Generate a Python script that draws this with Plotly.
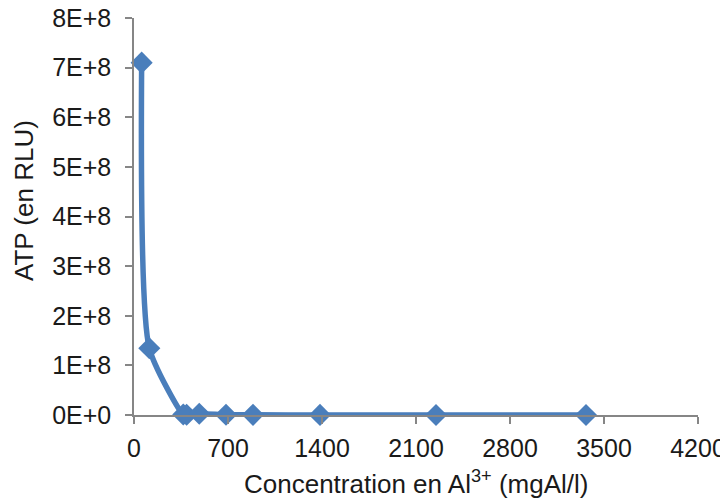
import plotly.graph_objects as go

conc = [57, 114, 367, 392, 486, 685, 886, 1385, 2249, 3366]
atp = [7.10e8, 1.345e8, 1.0e6, 0.5e6, 2.5e6, 0.5e6, 0.3e6, 0.2e6, 0.1e6, 0.1e6]

y_tickvals = [0, 1e8, 2e8, 3e8, 4e8, 5e8, 6e8, 7e8, 8e8]
y_ticktext = ["0E+0", "1E+8", "2E+8", "3E+8", "4E+8", "5E+8", "6E+8", "7E+8", "8E+8"]
x_tickvals = [0, 700, 1400, 2100, 2800, 3500, 4200]

FONT = "Liberation Sans, Arial, sans-serif"
TXT = "#1a1a1a"

fig = go.Figure()
fig.add_trace(go.Scatter(
    x=conc, y=atp, mode="lines+markers",
    line=dict(color="#4A7EBB", width=5.5, shape="spline", smoothing=0.6),
    marker=dict(symbol="diamond", size=17, color="#4A7EBB"),
    cliponaxis=False, showlegend=False,
))

axis_common = dict(
    showgrid=False, zeroline=False, showline=True, linecolor="#868686", linewidth=1.5,
    ticks="outside", ticklen=7, tickcolor="#868686", tickwidth=1.5,
    tickfont=dict(family=FONT, size=25, color=TXT),
    ticklabeloverflow="allow", automargin=False,
)
fig.update_layout(
    width=720, height=491,
    margin=dict(l=126, r=30, t=10, b=84),
    paper_bgcolor="white", plot_bgcolor="white",
    xaxis=dict(range=[0, 4200], tickvals=x_tickvals, ticktext=[str(v) for v in x_tickvals],
               ticklabelstandoff=3, **axis_common),
    yaxis=dict(range=[0, 8e8], tickvals=y_tickvals, ticktext=y_ticktext,
               ticklabelstandoff=9, **axis_common),
    annotations=[
        dict(text="Concentration en Al<sup>3+</sup> (mgAl/l)", xref="paper", yref="paper",
             x=0.50, y=-0.171, xanchor="center", yanchor="middle", showarrow=False,
             font=dict(family=FONT, size=26, color=TXT)),
        dict(text="ATP (en RLU)", xref="paper", yref="paper", textangle=-90,
             x=-0.195, y=0.539, xanchor="center", yanchor="middle", showarrow=False,
             font=dict(family=FONT, size=26, color=TXT)),
    ],
)
fig.write_html("out.html")
